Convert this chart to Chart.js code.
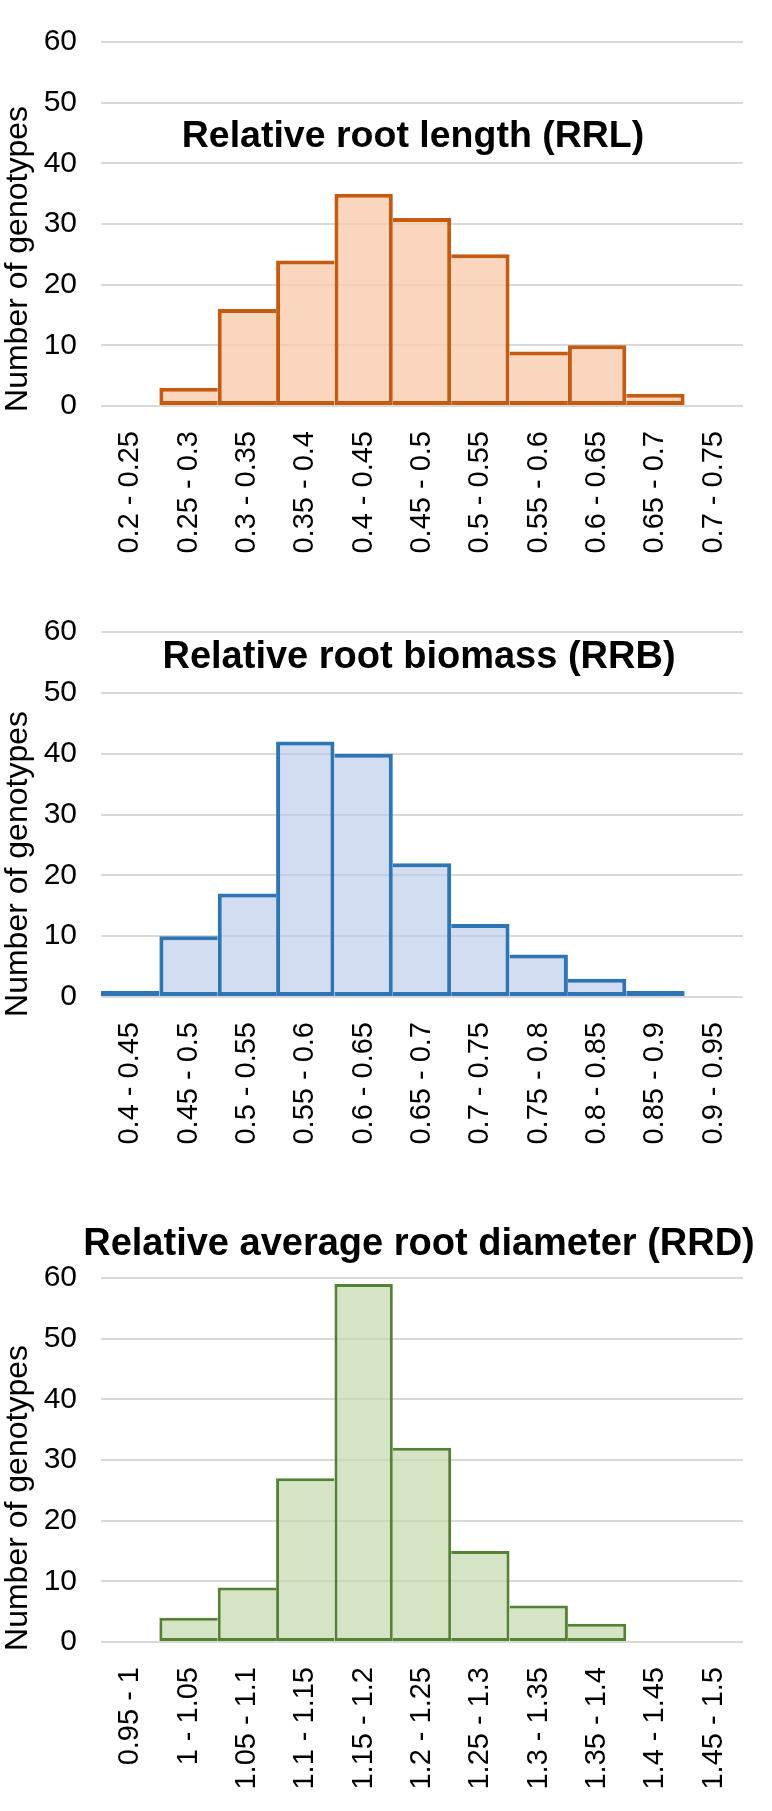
<!DOCTYPE html>
<html>
<head>
<meta charset="utf-8">
<title>Root trait histograms</title>
<script src="https://cdn.jsdelivr.net/npm/chart.js@4.4.1/dist/chart.umd.min.js"></script>
<style>
  html, body { margin: 0; padding: 0; background: #fff; }
  body { width: 772px; height: 1811px; position: relative; overflow: hidden; }
  .panel { position: absolute; left: 0; width: 772px; }
</style>
</head>
<body>
<div class="panel" style="top:0;height:590px"><canvas id="rrlChart"></canvas></div>
<div class="panel" style="top:590px;height:560px"><canvas id="rrbChart"></canvas></div>
<div class="panel" style="top:1150px;height:661px"><canvas id="rrdChart"></canvas></div>
<script>
// === Data ===
const rrlBins = ['0.2 - 0.25', '0.25 - 0.3', '0.3 - 0.35', '0.35 - 0.4', '0.4 - 0.45', '0.45 - 0.5',
  '0.5 - 0.55', '0.55 - 0.6', '0.6 - 0.65', '0.65 - 0.7', '0.7 - 0.75'];
const rrlCounts = [0, 3, 16, 24, 35, 31, 25, 9, 10, 2, 0];

const rrbBins = ['0.4 - 0.45', '0.45 - 0.5', '0.5 - 0.55', '0.55 - 0.6', '0.6 - 0.65', '0.65 - 0.7',
  '0.7 - 0.75', '0.75 - 0.8', '0.8 - 0.85', '0.85 - 0.9', '0.9 - 0.95'];
const rrbCounts = [1, 10, 17, 42, 40, 22, 12, 7, 3, 1, 0];

const rrdBins = ['0.95 - 1', '1 - 1.05', '1.05 - 1.1', '1.1 - 1.15', '1.15 - 1.2', '1.2 - 1.25',
  '1.25 - 1.3', '1.3 - 1.35', '1.35 - 1.4', '1.4 - 1.45', '1.45 - 1.5'];
const rrdCounts = [0, 4, 9, 27, 59, 32, 15, 6, 3, 0, 0];

const yTicks = [0, 10, 20, 30, 40, 50, 60];
const yAxisTitle = 'Number of genotypes';

const FONT = '"Liberation Sans", Arial, Helvetica, sans-serif';

// === Titles drawn inside the plot, like the spreadsheet original ===
const panelText = {
  id: 'panelText',
  afterDraw(chart, args, opts) {
    const ctx = chart.ctx;
    ctx.save();
    ctx.fillStyle = '#000';
    ctx.textAlign = 'center';
    ctx.textBaseline = 'alphabetic';
    ctx.font = 'bold ' + opts.titleSize + 'px ' + FONT;
    ctx.fillText(opts.title, opts.titleX, opts.titleY);

    ctx.translate(opts.axisX, opts.axisY);
    ctx.rotate(-Math.PI / 2);
    ctx.textBaseline = 'middle';
    ctx.font = '32px ' + FONT;
    ctx.fillText(yAxisTitle, 0, 0);
    ctx.restore();
  }
};

// one outline per shared edge: the taller bar owns it
function edgeWidths(bw) {
  return function (c) {
    const d = c.dataset.data;
    const v = d[c.dataIndex];
    if (!v) return 0;
    const prev = d[c.dataIndex - 1] || 0;
    const next = d[c.dataIndex + 1] || 0;
    return { top: bw, bottom: bw, left: v > prev ? bw : 0, right: v >= next ? bw : 0 };
  };
}

function makeHistogram(id, labels, counts, cfg) {
  const el = document.getElementById(id);
  if (!el) return;
  new Chart(el, {
    type: 'bar',
    data: {
      labels: labels,
      datasets: [{
        data: counts,
        backgroundColor: cfg.fill,
        borderColor: cfg.line,
        borderWidth: edgeWidths(cfg.lineWidth),
        borderSkipped: false,
        inflateAmount: 0,
        categoryPercentage: 1,
        barPercentage: 1
      }]
    },
    options: {
      animation: false,
      responsive: true,
      maintainAspectRatio: false,
      devicePixelRatio: 1,
      layout: { padding: { top: cfg.top, right: 29, left: 0, bottom: 0 } },
      plugins: {
        legend: { display: false },
        tooltip: { enabled: false },
        panelText: cfg.text
      },
      scales: {
        x: {
          type: 'category',
          grid: { display: false },
          border: { display: false },
          ticks: {
            minRotation: 90,
            maxRotation: 90,
            autoSkip: false,
            padding: 17,
            color: '#000',
            font: { family: FONT, size: 29 }
          },
          afterFit: scale => { scale.height = cfg.xHeight; }
        },
        y: {
          min: 0,
          max: 60,
          grid: { color: '#D9D9D9', lineWidth: 2, drawTicks: false },
          border: { display: false },
          ticks: {
            padding: 24,
            color: '#000',
            font: { family: FONT, size: 30 }
          },
          afterBuildTicks: scale => { scale.ticks = yTicks.map(v => ({ value: v })); },
          afterFit: scale => { scale.width = 101; }
        }
      }
    },
    plugins: [panelText]
  });
}

// === Initialize Charts ===
makeHistogram('rrlChart', rrlBins, rrlCounts, {
  line: '#C55A11',
  fill: 'rgba(248, 203, 173, 0.78)',
  lineWidth: 4,
  top: 33,
  xHeight: 184,
  text: { title: 'Relative root length (RRL)', titleSize: 37.5, titleX: 413, titleY: 147, axisX: 18, axisY: 259 }
});

makeHistogram('rrbChart', rrbBins, rrbCounts, {
  line: '#2E75B6',
  fill: 'rgba(180, 199, 231, 0.6)',
  lineWidth: 4,
  top: 37,
  xHeight: 153,
  text: { title: 'Relative root biomass (RRB)', titleSize: 38, titleX: 419, titleY: 78, axisX: 18, axisY: 274 }
});

makeHistogram('rrdChart', rrdBins, rrdCounts, {
  line: '#548235',
  fill: 'rgba(197, 217, 174, 0.7)',
  lineWidth: 3,
  top: 128,
  xHeight: 169,
  text: { title: 'Relative average root diameter (RRD)', titleSize: 38, titleX: 419, titleY: 105, axisX: 18, axisY: 348 }
});
</script>
</body>
</html>
